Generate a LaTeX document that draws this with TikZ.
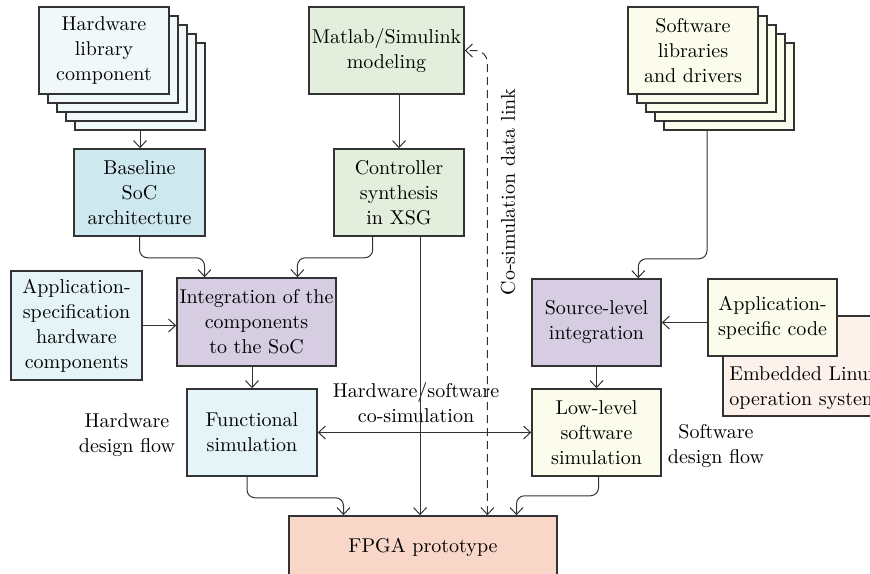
\documentclass[tikz,border=0pt]{standalone}
\usepackage{xcolor}
\usepackage{tikz}
\usetikzlibrary{calc,arrows.meta}

\definecolor{edge}{HTML}{333333}
\definecolor{hwlight}{HTML}{F1F8FA}
\definecolor{hwbase}{HTML}{CDE8EF}
\definecolor{hwcomp}{HTML}{E4F4F7}
\definecolor{mlgreen}{HTML}{E3EFDC}
\definecolor{integfill}{HTML}{D6CDE3}
\definecolor{swivory}{HTML}{FCFCEC}
\definecolor{linuxpeach}{HTML}{FCF1EB}
\definecolor{fpgasalmon}{HTML}{F8D6C8}

\tikzset{
	blk/.style={draw=edge,line width=0.75pt,align=center,inner sep=1pt,font=\fontsize{10}{12.5}\selectfont},
	txt/.style={align=center,inner sep=0pt,font=\fontsize{10}{12.5}\selectfont},
	flow/.style={->,draw=edge,line width=0.5pt,rounded corners=4pt},
}

\begin{document}
\begin{tikzpicture}[x=0.5pt,y=-0.5pt,>={Straight Barb[length=3.5pt,width=6.5pt]}]
		\useasboundingbox (0,0) rectangle (870,573);
		\clip (0,0) rectangle (870,573);
		% library stacks
		\foreach \i in {4,3,2,1} {
			\node[blk,fill=hwlight,minimum width=65pt,minimum height=43.5pt] (hwlib\i) at ($(104,50.5)+(9*\i,9*\i)$) {};
			\node[blk,fill=swivory,minimum width=65pt,minimum height=43.5pt] (swlib\i) at ($(693,50.5)+(9*\i,9*\i)$) {};
		}
		\node[blk,fill=hwlight,minimum width=65pt,minimum height=43.5pt] (hwlib) at (104,50.5) {Hardware\\library\\component};
		\node[blk,fill=swivory,minimum width=65pt,minimum height=43.5pt] (swlib) at (693,50.5) {Software\\libraries\\and drivers};
		% hardware side
		\node[blk,fill=hwbase,minimum width=65.5pt,minimum height=43.5pt] (base) at (139.5,192.5) {Baseline\\SoC\\architecture};
		\node[blk,fill=mlgreen,minimum width=77.5pt,minimum height=43.5pt] (matlab) at (386.5,50.5) {Matlab/Simulink\\modeling};
		\node[blk,fill=mlgreen,minimum width=65pt,minimum height=43.5pt] (ctrl) at (399,192.5) {Controller\\synthesis\\in XSG};
		\node[blk,fill=hwcomp,minimum width=65.5pt,minimum height=54.5pt] (appspec) at (76.5,325.5) {Application-\\specification\\hardware\\components};
		\node[blk,fill=integfill,minimum width=79.5pt,minimum height=44pt] (integ) at (256.5,322) {Integration of the\\components\\to the SoC};
		\node[blk,fill=hwcomp,minimum width=65pt,minimum height=43.5pt] (func) at (252,432.5) {Functional\\simulation};
		% software side
		\filldraw[fill=linuxpeach,draw=edge,line width=0.75pt] (723,316) rectangle (900,416);
		\node[txt,align=left,anchor=west] (linux) at (729,388) {Embedded Linux\\operation system};
		\node[blk,fill=swivory,minimum width=64.5pt,minimum height=38.5pt] (appcode) at (772.5,317.5) {Application-\\specific code};
		\node[blk,fill=integfill,minimum width=64.5pt,minimum height=43.5pt] (srclvl) at (596.5,322.5) {Source-level\\integration};
		\node[blk,fill=swivory,minimum width=64.5pt,minimum height=43.5pt] (lowlvl) at (596.5,432.5) {Low-level\\software\\simulation};
		\node[blk,fill=fpgasalmon,minimum width=134pt,minimum height=31pt] (fpga) at (423,547) {FPGA prototype};
		% labels
		\node[txt] (hwflow) at (127,435) {Hardware\\design flow};
		\node[txt] (swflow) at (716,446) {Software\\design flow};
		\node[txt] (cosim) at (416,403) {Hardware/software\\co-simulation};
		\node[txt,rotate=90] (linklbl) at (508,192) {Co-simulation data link};
		% connections
		\draw[flow] (hwlib4.south) -- (hwlib4.south |- base.north);
		\draw[flow] (matlab.south -| ctrl.north) -- (ctrl.north);
		\draw[flow] (base.south) -- ++(0,21) -| ($(integ.north west)!0.176!(integ.north east)$);
		\draw[flow] ($(ctrl.south west)!0.3!(ctrl.south east)$) -- ++(0,21) -| ($(integ.north west)!0.755!(integ.north east)$);
		\draw[flow] ($(ctrl.south west)!0.66!(ctrl.south east)$) coordinate (xsg out) -- (xsg out |- fpga.north);
		\draw[flow] (appspec.east) -- (integ.west |- appspec.east);
		\draw[flow] (func.north |- integ.south) -- (func.north);
		\draw[flow] ($(func.south)+(-5,0)$) -- ++(0,21) -| ($(fpga.north west)!0.205!(fpga.north east)$);
		\draw[flow] ($(swlib4.south)+(-22,0)$) -- ++(0,128) -| ($(srclvl.north west)!0.82!(srclvl.north east)$);
		\draw[flow] (appcode.west |- srclvl.east) -- (srclvl.east);
		\draw[flow] (srclvl.south) -- (lowlvl.north);
		\draw[flow] ($(lowlvl.south)+(2,0)$) -- ++(0,19) -| ($(fpga.north west)!0.847!(fpga.north east)$);
		\draw[flow,<->] (func.east) -- (lowlvl.west);
		\draw[flow,<->,rounded corners=6pt,dash pattern=on 4pt off 2.5pt] ($(fpga.north west)!0.739!(fpga.north east)$) coordinate (link) |- (matlab.east);
	\end{tikzpicture}
\end{document}
